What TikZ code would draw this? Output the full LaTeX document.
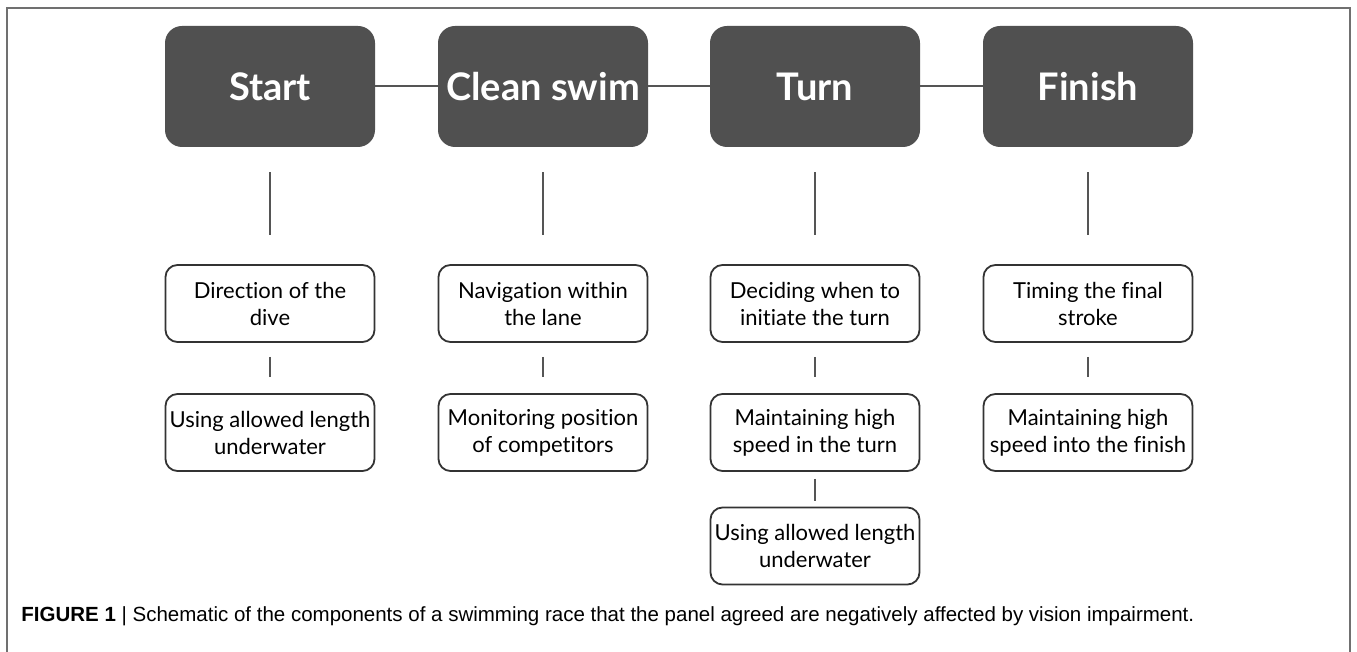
\documentclass[tikz,border=0pt]{standalone}
\usepackage{fontspec}
\setmainfont{Lato}[Ligatures=NoCommon]
\newfontfamily\capfont{Liberation Sans}
\definecolor{stagegray}{HTML}{505050}
\definecolor{linegray}{HTML}{555555}
\definecolor{boxedge}{HTML}{333333}
\definecolor{framegray}{HTML}{707070}
\tikzset{
  stage/.style={fill=stagegray, rounded corners=8.5pt, minimum width=105pt,
    minimum height=60.5pt, text=white, inner sep=0pt,
    font=\fontsize{19}{22}\selectfont\bfseries},
  part/.style={draw=boxedge, line width=0.9pt, rounded corners=6pt,
    minimum width=104.5pt, minimum height=38.5pt, align=center, inner sep=0pt,
    font=\fontsize{11}{13.5}\selectfont},
  link/.style={draw=linegray, line width=1pt},
}

\begin{document}
\begin{tikzpicture}[x=0.5pt,y=0.5pt]
\useasboundingbox (0,0) rectangle (1357,652);
\draw[framegray, line width=0.8pt] (7,0) -- (7,644) -- (1350,644) -- (1350,0);

% race stages
\node[stage] (start)  at (270,565.5)  {Start};
\node[stage] (swim)   at (543,565.5)  {Clean swim};
\node[stage] (turn)   at (815,565.5)  {Turn};
\node[stage] (finish) at (1088,565.5) {Finish};

% affected components
\node[part] (dive)        at (270,348.5)  {Direction of the\\dive};
\node[part] (underA)      at (270,219.5)  {Using allowed length\\underwater};
\node[part] (lane)        at (543,348.5)  {Navigation within\\the lane};
\node[part] (rivals)      at (543,219.5)  {Monitoring position\\of competitors};
\node[part] (initiate)    at (815,348.5)  {Deciding when to\\initiate the turn};
\node[part] (speedTurn)   at (815,219.5)  {Maintaining high\\speed in the turn};
\node[part] (underB)      at (815,106)    {Using allowed length\\underwater};
\node[part] (stroke)      at (1088,348.5) {Timing the final\\stroke};
\node[part] (speedFinish) at (1088,219.5) {Maintaining high\\speed into the finish};

\draw[link] (start) -- (swim);
\draw[link] (swim) -- (turn);
\draw[link] (turn) -- (finish);

\foreach \a/\b in {start/dive, swim/lane, turn/initiate, finish/stroke}
  \draw[link, shorten <=12.5pt, shorten >=14.5pt] (\a) -- (\b);
\foreach \a/\b in {dive/underA, lane/rivals, initiate/speedTurn, stroke/speedFinish}
  \draw[link, shorten <=7pt, shorten >=8pt] (\a) -- (\b);
\draw[link, shorten <=3.5pt, shorten >=3pt] (speedTurn) -- (underB);

\node[anchor=west, inner sep=0pt, font=\capfont\fontsize{10.25}{12}\selectfont] (caption) at (21,36)
  {{\bfseries FIGURE 1} | Schematic of the components of a swimming race that the panel agreed are negatively affected by vision impairment.};
\end{tikzpicture}
\end{document}
